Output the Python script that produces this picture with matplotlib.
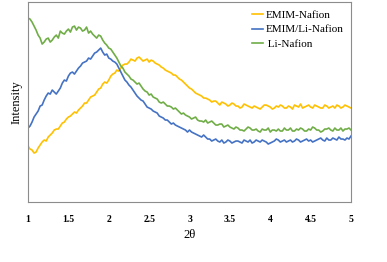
import numpy as np
import matplotlib.pyplot as plt

plt.rcParams["font.family"] = "Liberation Serif"

# 2theta grid, 0.025 step
two_theta = np.linspace(1.0, 5.0, 161)

emim_nafion = [56, 53, 52, 49, 50, 54, 57, 60, 62, 61,
               65, 67, 69, 72, 73, 73, 76, 79, 80, 83,
               85, 86, 88, 90, 89, 92, 94, 96, 99, 99,
               102, 105, 106, 107, 110, 113, 114, 118, 120, 119,
               122, 126, 128, 129, 132, 131, 134, 137, 138, 138,
               140, 143, 142, 141, 144, 145, 143, 141, 142, 143,
               140, 142, 141, 139, 138, 137, 135, 134, 132, 131,
               130, 129, 127, 127, 125, 123, 122, 120, 118, 116,
               114, 113, 111, 109, 108, 107, 106, 104, 104, 103,
               102, 100, 101, 101, 99, 97, 100, 99, 98, 96,
               97, 99, 98, 96, 96, 94, 95, 98, 97, 96,
               95, 94, 96, 95, 94, 93, 95, 97, 97, 96,
               95, 93, 94, 96, 95, 97, 96, 94, 94, 96,
               95, 93, 97, 96, 95, 98, 94, 95, 96, 97,
               95, 94, 97, 96, 95, 94, 94, 97, 96, 94,
               95, 96, 94, 97, 96, 94, 95, 97, 96, 95,
               94]
emim_li_nafion = [74, 76, 80, 85, 88, 91, 96, 97, 102, 106,
                  109, 108, 112, 110, 108, 111, 114, 119, 122, 121,
                  126, 129, 130, 128, 131, 134, 136, 139, 140, 141,
                  144, 143, 146, 149, 150, 152, 154, 150, 147, 148,
                  144, 143, 141, 140, 138, 134, 130, 126, 122, 120,
                  117, 115, 112, 109, 106, 104, 102, 101, 98, 95,
                  94, 93, 91, 90, 89, 86, 85, 84, 82, 82,
                  80, 78, 79, 77, 76, 75, 74, 73, 72, 70,
                  72, 70, 69, 68, 67, 66, 65, 67, 65, 63,
                  63, 61, 62, 63, 61, 60, 62, 59, 60, 62,
                  61, 59, 60, 61, 61, 60, 59, 62, 61, 60,
                  62, 59, 60, 62, 61, 60, 62, 61, 60, 58,
                  59, 60, 61, 63, 62, 60, 61, 62, 60, 61,
                  62, 60, 61, 63, 62, 60, 61, 62, 63, 61,
                  62, 60, 61, 62, 63, 64, 62, 61, 64, 62,
                  62, 64, 63, 62, 65, 63, 63, 62, 64, 63,
                  66]
li_nafion = [184, 183, 180, 176, 172, 167, 164, 158, 160, 163,
             164, 160, 162, 165, 167, 164, 171, 169, 168, 171,
             173, 170, 175, 176, 172, 175, 174, 171, 172, 175,
             169, 171, 168, 166, 164, 167, 166, 162, 159, 157,
             154, 153, 150, 147, 144, 140, 136, 134, 130, 128,
             126, 123, 122, 120, 118, 119, 116, 113, 111, 110,
             107, 108, 105, 104, 103, 100, 99, 100, 98, 96,
             96, 95, 93, 94, 92, 90, 88, 89, 87, 86,
             85, 83, 84, 85, 82, 81, 81, 80, 82, 79,
             80, 81, 79, 77, 77, 78, 78, 75, 76, 77,
             75, 74, 73, 75, 74, 72, 72, 71, 73, 75,
             74, 72, 72, 73, 71, 70, 73, 72, 72, 74,
             70, 72, 72, 71, 73, 71, 71, 74, 72, 72,
             74, 71, 71, 73, 72, 74, 73, 71, 71, 73,
             72, 75, 74, 72, 72, 70, 71, 73, 73, 74,
             72, 71, 74, 72, 72, 74, 71, 73, 73, 74,
             72]

labels = ["EMIM-Nafion", "EMIM/Li-Nafion", " Li-Nafion"]
colors = ["#FFC000", "#4472C4", "#70AD47"]
xticks = [1, 1.5, 2, 2.5, 3, 3.5, 4, 4.5, 5]

fig = plt.figure(figsize=(3.87, 2.62), dpi=100)
ax = fig.add_axes([0.0724, 0.229, 0.8346, 0.763])

for serie, lab, col in zip([emim_nafion, emim_li_nafion, li_nafion], labels, colors):
    ax.plot(two_theta, serie, color=col, lw=1.2, label=lab)

ax.set_xlim(1, 5)
ax.set_ylim(0, 200)
ax.set_xticks(xticks)
ax.set_xticklabels([f"{t:g}" for t in xticks], fontsize=7, fontweight="bold")
ax.set_yticks([])
ax.tick_params(axis="x", length=0, pad=9)
for sp in ax.spines.values():
    sp.set_color("#8c8c8c")
    sp.set_linewidth(0.8)

ax.set_xlabel("2θ", fontsize=9, labelpad=4)
ax.set_ylabel("Intensity", fontsize=9, labelpad=4)

ax.legend(loc="upper right", frameon=False, fontsize=8, handlelength=1.0,
          handletextpad=0.2, labelspacing=0.45, borderaxespad=0.3)

fig.savefig("out.png", dpi=100)
